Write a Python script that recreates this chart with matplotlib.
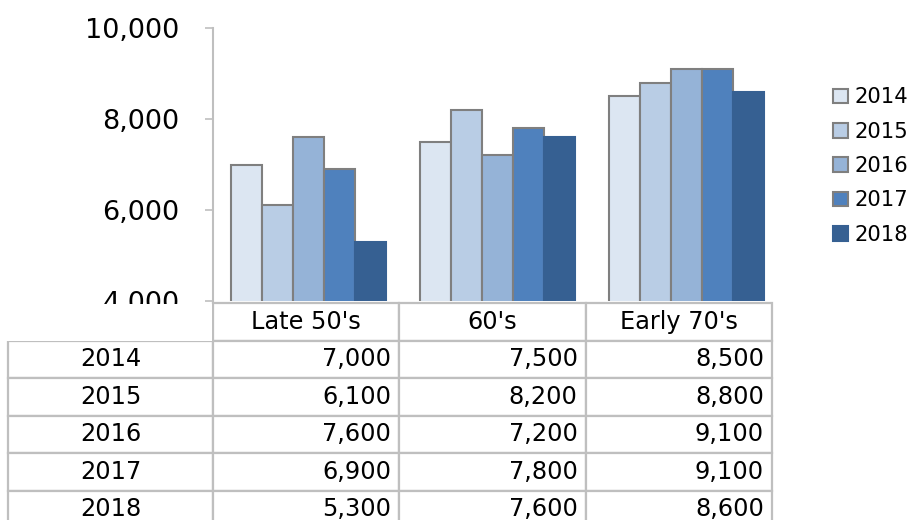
import matplotlib.pyplot as plt
from matplotlib.patches import Rectangle
from matplotlib.table import Table
from matplotlib.ticker import FuncFormatter

# Data
eras = ["Late 50's", "60's", "Early 70's"]
years = ['2014', '2015', '2016', '2017', '2018']
v2014 = [7000, 7500, 8500]
v2015 = [6100, 8200, 8800]
v2016 = [7600, 7200, 9100]
v2017 = [6900, 7800, 9100]
v2018 = [5300, 7600, 8600]
series = [v2014, v2015, v2016, v2017, v2018]

colors = ['#dce6f2', '#b9cde5', '#95b3d7', '#4f81bd', '#366092']
edges = ['#7f7f7f', '#7f7f7f', '#7f7f7f', '#7f7f7f', '#366092']
grid_grey = '#bfbfbf'

plt.rcParams['font.family'] = 'DejaVu Sans'

fig = plt.figure(figsize=(9.1, 5.2), dpi=100)
ax = fig.add_axes([213 / 910, 1 - 301 / 520, 559 / 910, 273 / 520])

# Grouped bars
bar_w = 0.164
x = range(len(eras))
for i, vals in enumerate(series):
    ax.bar([xi + (i - 2) * bar_w for xi in x], vals, width=bar_w,
           color=colors[i], edgecolor=edges[i], linewidth=1.5,
           label=years[i], zorder=2)

ax.set_xlim(-0.503, 2.45)
ax.set_ylim(4000, 10000)
ax.set_yticks([4000, 6000, 8000, 10000])
ax.yaxis.set_major_formatter(FuncFormatter(lambda v, p: f'{int(v):,}'))
ax.tick_params(axis='y', direction='out', length=6, width=1.2, color=grid_grey,
               labelsize=19.5, pad=18)
ax.tick_params(axis='x', length=0, labelbottom=False)
for side in ['top', 'right', 'bottom']:
    ax.spines[side].set_visible(False)
ax.spines['left'].set_color(grid_grey)
ax.spines['left'].set_linewidth(1.5)

# Data table under the chart: a row-label column plus one column per era
label_w = 205 / 559
col_w = 1 / 3
row_h = 1 / 6
table = Table(ax, bbox=[-label_w, -227 / 273, label_w + 1, 225 / 273])
for j, era in enumerate(eras):
    table.add_cell(0, j + 1, col_w, row_h, text=era, loc='center')
for i, vals in enumerate(series):
    table.add_cell(i + 1, 0, label_w, row_h, text=years[i], loc='center')
    for j, v in enumerate(vals):
        table.add_cell(i + 1, j + 1, col_w, row_h, text=f'{v:,}', loc='right')
table.auto_set_font_size(False)
table.set_fontsize(17.3)
for (r, c), cell in table.get_celld().items():
    cell.set_edgecolor(grid_grey)
    cell.set_linewidth(1.6)
    cell.PAD = 8 / 187
ax.add_table(table)

# The table's top edge cuts off the lowest axis label
fig.add_artist(Rectangle((0, 1 - 341 / 520), 212 / 910, 37 / 520,
                         transform=fig.transFigure, facecolor='white',
                         edgecolor='none', zorder=5))

ax.legend(loc='center left', bbox_to_anchor=(833 / 910, 1 - 166 / 520),
          bbox_transform=fig.transFigure, frameon=False, fontsize=15.2,
          handlelength=0.7, handleheight=0.7, handletextpad=0.3,
          labelspacing=0.68, borderpad=0, borderaxespad=0)

fig.savefig('out.png', dpi=100)
